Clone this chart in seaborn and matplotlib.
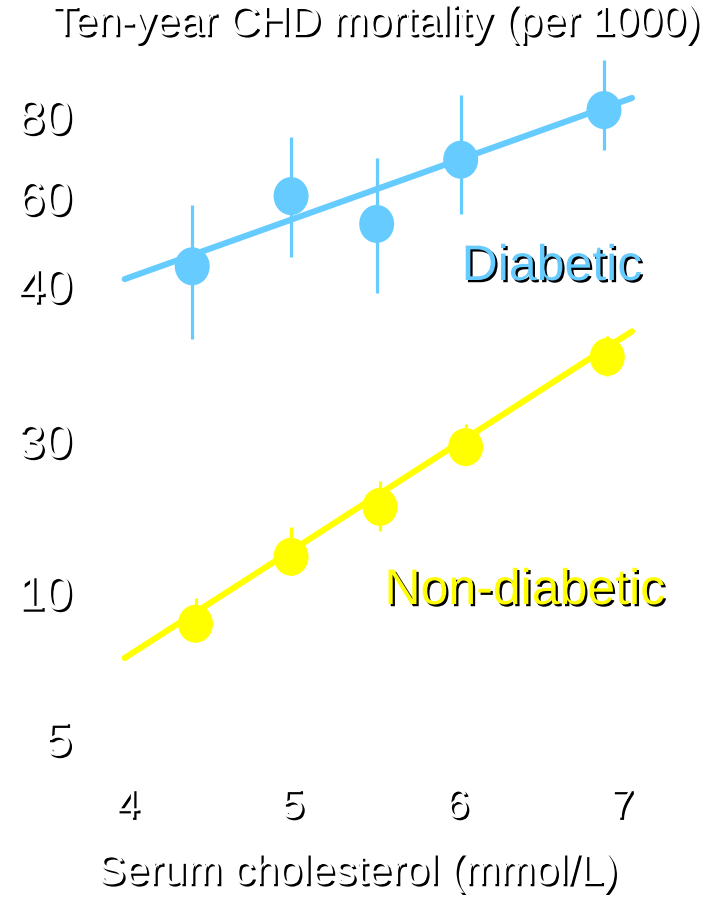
import numpy as np
import pandas as pd
import matplotlib
matplotlib.use("Agg")
import matplotlib.pyplot as plt
import matplotlib.patheffects as pe
from matplotlib.path import Path
from matplotlib.ticker import FixedLocator, NullLocator
import seaborn as sns

# ---- data ----
diab_chol = [4.39, 4.99, 5.51, 6.02, 6.89]
diab_mort = [43.6, 60.2, 53.0, 68.5, 81.7]
diab_lo = [36.2, 45.5, 39.4, 55.5, 70.9]
diab_hi = [57.8, 74.2, 68.9, 86.2, 97.6]

nondiab_chol = [4.41, 4.99, 5.53, 6.05, 6.91]
nondiab_mort = [8.6, 12.9, 18.5, 28.5, 35.0]
nondiab_lo = [7.96, 11.3, 15.5, 25.0, 33.8]
nondiab_hi = [9.72, 16.0, 22.3, 30.9, 36.4]

fit_chol = [3.98, 7.06]
diab_fit = [41.1, 85.3]
nondiab_fit = [7.31, 36.7]

y_ticks = [5, 10, 30, 40, 60, 80]
y_tick_labels = ["5", "10", "30", "40", "60", "80"]
x_ticks = [4, 5, 6, 7]
x_tick_labels = ["4", "5", "6", "7"]

BLUE = "#66CCFF"
YELLOW = "#FFFF00"

# ---- piecewise-log mortality scale (tick spacing of the printed axis) ----
_L = np.log(np.array(y_ticks, dtype=float))
_P = np.array([160.0, 306.0, 458.0, 613.0, 701.0, 782.0])


def fwd(v):
    v = np.asarray(v, dtype=float)
    u = np.log(np.clip(v, 1e-9, None))
    out = np.interp(u, _L, _P)
    s0 = (_P[1] - _P[0]) / (_L[1] - _L[0])
    s1 = (_P[-1] - _P[-2]) / (_L[-1] - _L[-2])
    out = np.where(u < _L[0], _P[0] + (u - _L[0]) * s0, out)
    out = np.where(u > _L[-1], _P[-1] + (u - _L[-1]) * s1, out)
    return out


def inv(p):
    p = np.asarray(p, dtype=float)
    u = np.interp(p, _P, _L)
    s0 = (_L[1] - _L[0]) / (_P[1] - _P[0])
    s1 = (_L[-1] - _L[-2]) / (_P[-1] - _P[-2])
    u = np.where(p < _P[0], _L[0] + (p - _P[0]) * s0, u)
    u = np.where(p > _P[-1], _L[-1] + (p - _P[-1]) * s1, u)
    return np.exp(u)


sns.set_style("white")
plt.rcParams["font.family"] = ["Liberation Sans", "DejaVu Sans"]

W, H = 719, 898
fig = plt.figure(figsize=(W / 100, H / 100), dpi=100)
fig.patch.set_facecolor("white")
ax = fig.add_axes([90 / W, 128 / H, 610 / W, 720 / H])
ax.set_facecolor("white")
ax.set_yscale("function", functions=(fwd, inv))

shadow = [pe.SimplePatchShadow(offset=(1.6, -1.6), shadow_rgbFace="black", alpha=1.0),
          pe.Normal()]

ellipse = Path(Path.unit_circle().vertices * np.array([0.92, 1.0]), Path.unit_circle().codes)

df_d = pd.DataFrame({"chol": diab_chol, "mort": diab_mort})
df_n = pd.DataFrame({"chol": nondiab_chol, "mort": nondiab_mort})

# error bars
ax.vlines(diab_chol, diab_lo, diab_hi, color=BLUE, lw=2.3, zorder=1)
ax.vlines(nondiab_chol, nondiab_lo, nondiab_hi, color=YELLOW, lw=2.3, zorder=1)

# fitted lines
sns.lineplot(x=fit_chol, y=diab_fit, color=BLUE, lw=4.4, ax=ax, zorder=2)
sns.lineplot(x=fit_chol, y=nondiab_fit, color=YELLOW, lw=4.4, ax=ax, zorder=2)

# observed points
sns.scatterplot(data=df_d, x="chol", y="mort", color=BLUE, marker=ellipse, s=750,
                edgecolor="none", linewidth=0, ax=ax, zorder=3)
sns.scatterplot(data=df_n, x="chol", y="mort", color=YELLOW, marker=ellipse, s=750,
                edgecolor="none", linewidth=0, ax=ax, zorder=3)

ax.set_xlim(4 + (90 - 128) / 164.7, 4 + (700 - 128) / 164.7)
ax.set_ylim(float(inv(128.0)), float(inv(848.0)))

ax.yaxis.set_major_locator(FixedLocator(y_ticks))
ax.yaxis.set_minor_locator(NullLocator())
ax.set_yticklabels(y_tick_labels)
ax.xaxis.set_major_locator(FixedLocator(x_ticks))
ax.set_xticklabels(x_tick_labels)
ax.set_xlabel("")
ax.set_ylabel("")

ax.tick_params(axis="y", length=0, pad=13, labelsize=35, labelcolor="white")
ax.tick_params(axis="x", length=0, pad=12, labelsize=30, labelcolor="white")
for lbl in ax.get_xticklabels() + ax.get_yticklabels():
    lbl.set_path_effects(shadow)

for sp in ax.spines.values():
    sp.set_visible(False)
ax.grid(False)


def ftext(px, py, s, **kw):
    t = fig.text(px / W, 1 - py / H, s, **kw)
    t.set_path_effects(shadow)
    return t


ftext(376, 24, "Ten-year CHD mortality (per 1000)", ha="center", va="center",
      fontsize=30.5, color="white")
ftext(357, 873, "Serum cholesterol (mmol/L)", ha="center", va="center",
      fontsize=30.5, color="white")
ftext(552, 280, "Diabetic", ha="center", va="baseline", fontsize=36, color=BLUE)
ftext(525, 604, "Non-diabetic", ha="center", va="baseline", fontsize=36, color=YELLOW)

fig.savefig("out.png", dpi=100, facecolor="white")
